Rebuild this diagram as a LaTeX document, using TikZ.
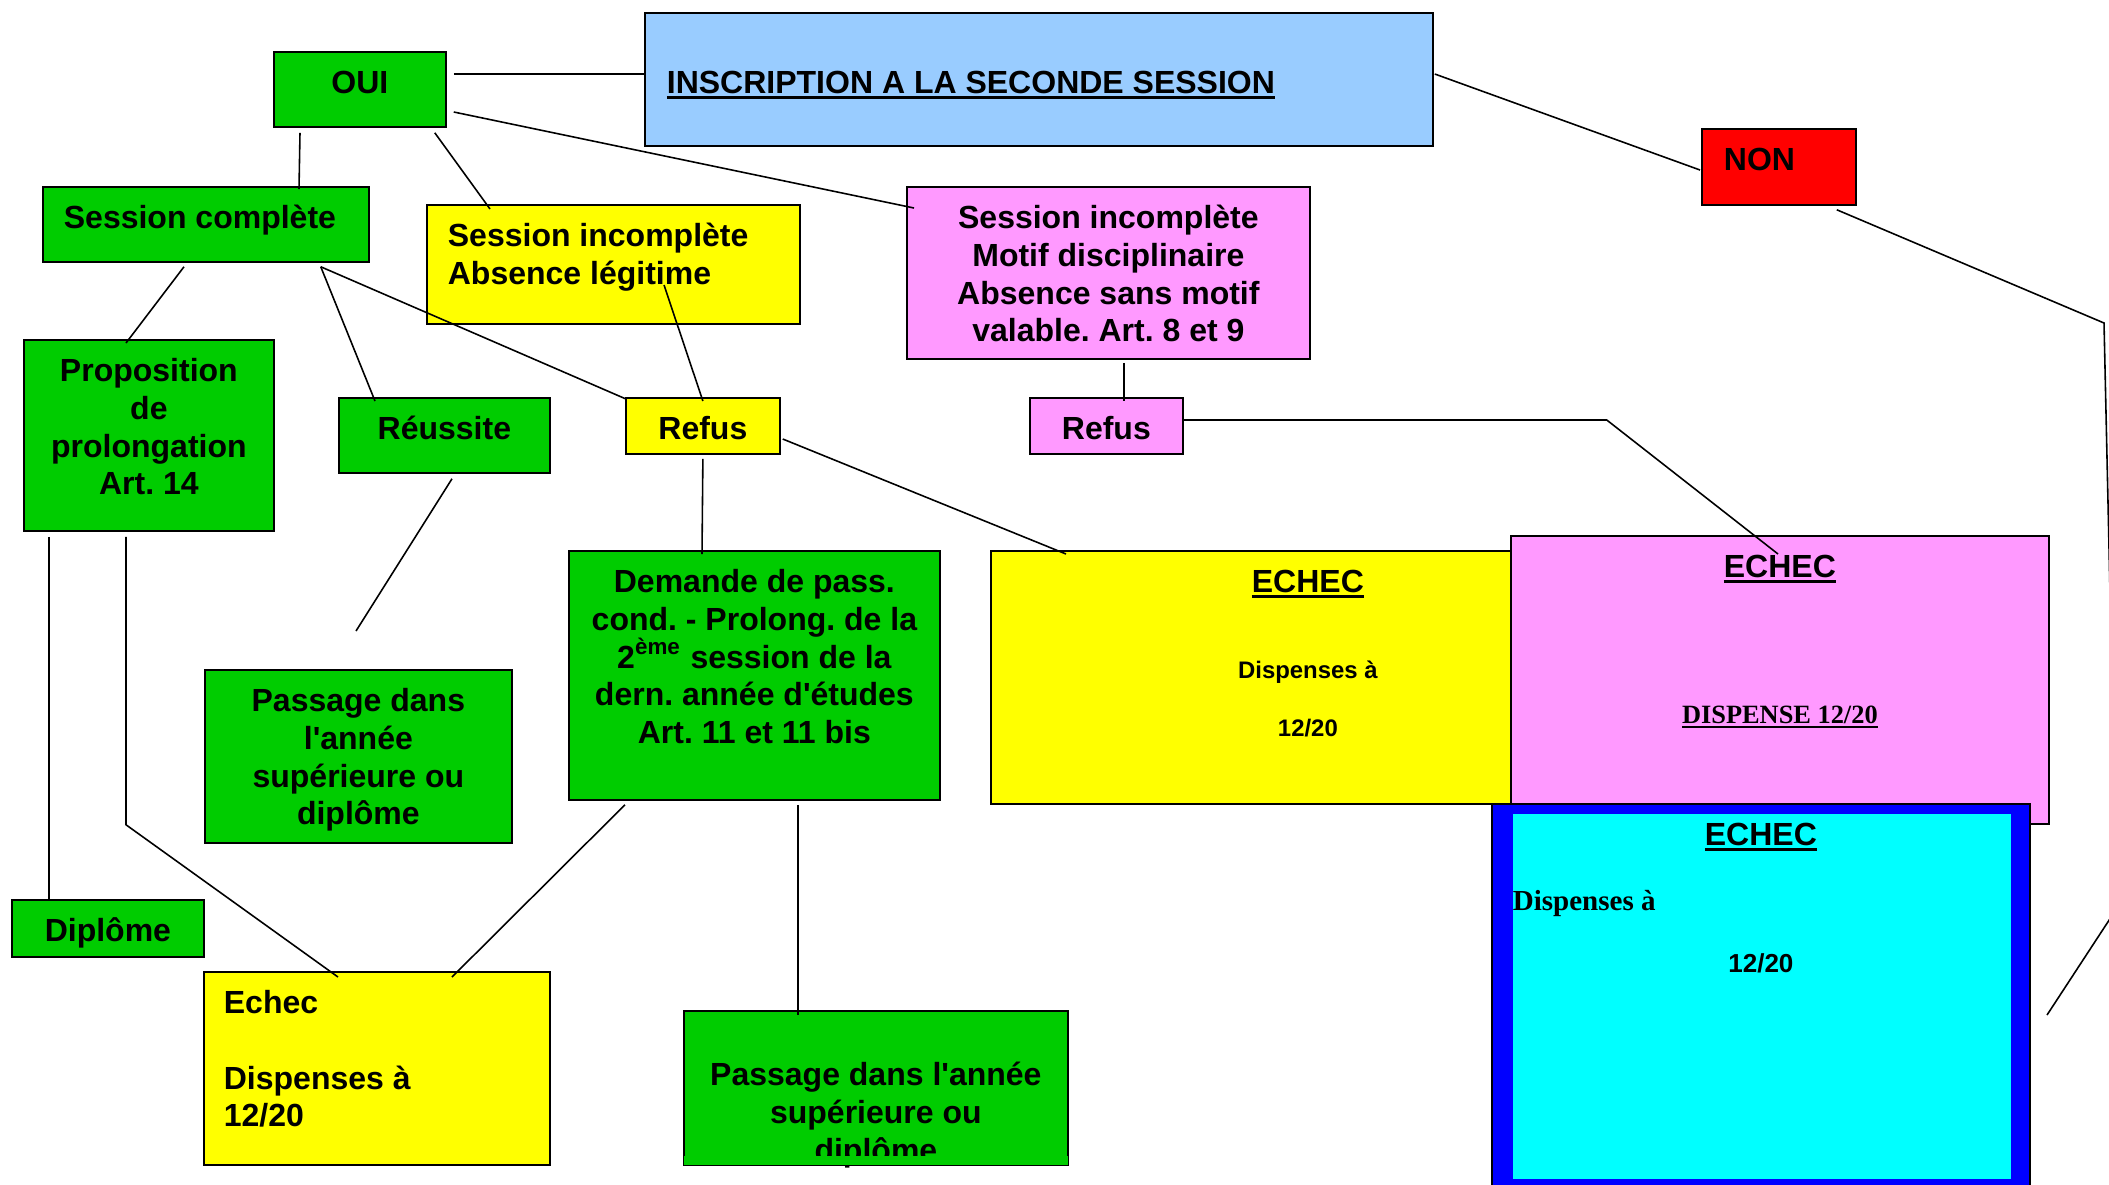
\documentclass[tikz,border=0pt]{standalone}
\usepackage{fontspec}
\setmainfont{Liberation Sans}[Ligatures=TeXOff]
\newfontfamily\timesfont{Liberation Serif}[Ligatures=TeXOff]
\usetikzlibrary{calc}

\definecolor{vertfonce}{RGB}{0,204,0}
\definecolor{jaune}{RGB}{255,255,0}
\definecolor{rose}{RGB}{255,153,255}
\definecolor{bleuclair}{RGB}{153,204,255}
\definecolor{rouge}{RGB}{255,0,0}
\definecolor{cyanvif}{RGB}{0,255,255}
\definecolor{bleuvif}{RGB}{0,0,255}

%one pixel of the page
\newdimen\pxu \pxu=0.01cm
%box text: [baseline of first line]{width}{height}{alignment}{text}
\newcommand{\boxtxt}[5][42]{\parbox[c][#3\pxu][t]{#2\pxu}{#4\rule{0pt}{#1\pxu}#5}}
\newcommand{\agauche}[1]{\raggedright\leftskip=#1\pxu\relax}
\newcommand{\souligne}[1]{\leavevmode\setbox0=\hbox{#1}\rlap{\rule[-5\pxu]{\wd0}{2.5\pxu}}\box0}
\newcommand{\petit}{\fontsize{6.8}{8.2}\selectfont}

\tikzset{
	boite/.style={draw=black, line width=0.5pt, inner sep=0pt, anchor=north west,
		font=\bfseries\frenchspacing\fontsize{9.1}{10.7}\selectfont},
	boitevert/.style={boite, fill=vertfonce},
	boitejaune/.style={boite, fill=jaune},
	boiterose/.style={boite, fill=rose},
	trait/.style={draw=black, line width=0.45pt}
}

\begin{document}
\begin{tikzpicture}[x=0.01cm, y=-0.01cm]
	\useasboundingbox (0,0) rectangle (2109,1184);
	\clip (0,0) rectangle (2109,1184);

	%top row
	\node[boite, fill=bleuclair] (insc) at (644,12) {\boxtxt[81]{788}{133}{\agauche{22}}{\souligne{INSCRIPTION A LA SECONDE SESSION}}};
	\node[boitevert] (oui) at (273,51) {\boxtxt{172}{75}{\centering}{OUI}};
	\node[boite, fill=rouge] (non) at (1701,128) {\boxtxt{154}{76}{\agauche{22}}{NON}};

	%the three kinds of session
	\node[boitevert] (scomp) at (42,186) {\boxtxt{326}{75}{\agauche{21}}{Session complète}};
	\node[boitejaune] (sinc) at (426,204) {\boxtxt{373}{119}{\agauche{21}}{Session incomplète\\Absence légitime}};
	\node[boiterose] (smot) at (906,186) {\boxtxt{403}{172}{\centering}{Session incomplète\\Motif disciplinaire\\Absence sans motif\\valable. Art. 8 et 9}};

	%second level
	\node[boitevert] (prop) at (23,339) {\boxtxt{250}{191}{\centering}{Proposition\\de\\prolongation\\Art. 14}};
	\node[boitevert] (reus) at (338,397) {\boxtxt{211}{75}{\centering}{Réussite}};
	\node[boitejaune] (refj) at (625,397) {\boxtxt{154}{56}{\centering}{Refus}};
	\node[boiterose] (refr) at (1029,397) {\boxtxt{153}{56}{\centering}{Refus}};

	%middle row
	\node[boitevert] (dem) at (568,550) {\boxtxt{371}{249}{\centering}{Demande de pass.\\cond. - Prolong. de la\\2\textsuperscript{ème} session de la\\dern. année d'études\\Art. 11 et 11 bis}};
	\node[boitejaune] (echj) at (990,550) {\boxtxt{520}{253}{\centering\leftskip=114\pxu plus 1fil\relax}{\souligne{ECHEC}\par\vspace{56.7\pxu}\petit Dispenses à\par\vspace{29.2\pxu}12/20}};
	\node[boiterose] (echr) at (1510,535) {\boxtxt{538}{288}{\centering}{\souligne{ECHEC}\par\vspace{113.9\pxu}{\timesfont\fontsize{7.5}{9}\selectfont\souligne{DISPENSE 12/20}\par}}};
	\node[boite, fill=bleuvif, path picture={
		\fill[cyanvif] ($(path picture bounding box.north west)+(21,10)$) rectangle ($(path picture bounding box.south east)+(-19,-8)$);
		}] (echc) at (1491,803) {\boxtxt{538}{383}{\centering}{\souligne{ECHEC}\par\vspace{29.7\pxu}{\agauche{21}\timesfont\fontsize{8.25}{9.9}\selectfont Dispenses à\par}\vspace{30.7\pxu}{\fontsize{7.4}{8.9}\selectfont 12/20\par}}};
	\node[boitevert] (passg) at (204,669) {\boxtxt{307}{173}{\centering}{Passage dans\\l'année\\supérieure ou\\diplôme}};

	%bottom row
	\node[boitevert] (dipl) at (11,899) {\boxtxt{192}{57}{\centering}{Diplôme}};
	\node[boitejaune] (echb) at (203,971) {\boxtxt{346}{193}{\agauche{20}}{Echec\\[10.7pt]Dispenses à\\12/20}};
	\node[boitevert] (passb) at (683,1010) {\boxtxt[75]{384}{154}{\centering}{Passage dans l'année\\supérieure ou\\diplôme}};
	%last line is cut by the box
	\fill[vertfonce] ($(passb.south west)+(1,-1)$) rectangle ($(passb.south east)+(-1,-10)$);

	%free ends
	\coordinate (reusfin) at (356,631);
	\coordinate (nonc1) at (2104,323);
	\coordinate (nonc2) at (2117,908);
	\coordinate (nonfin) at (2047,1015);

	%lines from OUI
	\draw[trait] ($(oui.north east)+(7,23)$) -- ($(insc.north west)+(0,62)$);
	\draw[trait] ($(oui.north east)+(7,61)$) -- ($(smot.north west)+(8,22)$);
	\draw[trait] ($(oui.south west)+(27,5)$) -- ($(scomp.north west)+(257,3)$);
	\draw[trait] ($(oui.south east)+(-12,5)$) -- ($(sinc.north west)+(64,5)$);
	%lines from session complete
	\draw[trait] ($(scomp.south west)+(142,4)$) -- ($(prop.north west)+(103,4)$);
	\draw[trait] ($(scomp.south east)+(-49,4)$) -- ($(reus.north west)+(37,4)$);
	\draw[trait] ($(scomp.south east)+(-49,4)$) -- ($(refj.north west)+(1,2)$);
	\draw[trait] ($(reus.south west)+(114,5)$) -- (reusfin);
	\draw[trait] ($(prop.south west)+(26,5)$) -- ($(dipl.north west)+(38,0)$);
	\draw[trait] ($(prop.south west)+(103,5)$) -- ++(0,288) -- ($(echb.north west)+(135,6)$);
	%lines from session incomplete (legit)
	\draw[trait] ($(sinc.north west)+(238,81)$) -- ($(refj.north)+(0,4)$);
	\draw[trait] ($(refj.south)+(0,4)$) -- ($(dem.north west)+(134,4)$);
	\draw[trait] ($(refj.north east)+(2,42)$) -- ($(echj.north west)+(76,4)$);
	\draw[trait] ($(dem.south west)+(57,4)$) -- ($(echb.north west)+(249,6)$);
	\draw[trait] ($(dem.south west)+(230,4)$) -- ($(passb.north west)+(115,5)$);
	%right side
	\draw[trait] ($(insc.north east)+(1,62)$) -- ($(non.north west)+(-1,42)$);
	\draw[trait] ($(non.south east)+(-20,4)$) -- (nonc1) -- (nonc2) -- (nonfin);
	\draw[trait] ($(smot.south west)+(218,3)$) -- ($(refr.north west)+(95,4)$);
	\draw[trait] ($(refr.north east)+(0,23)$) -- ++(423,0) -- ($(echr.north west)+(268,19)$);

\end{tikzpicture}
\end{document}
